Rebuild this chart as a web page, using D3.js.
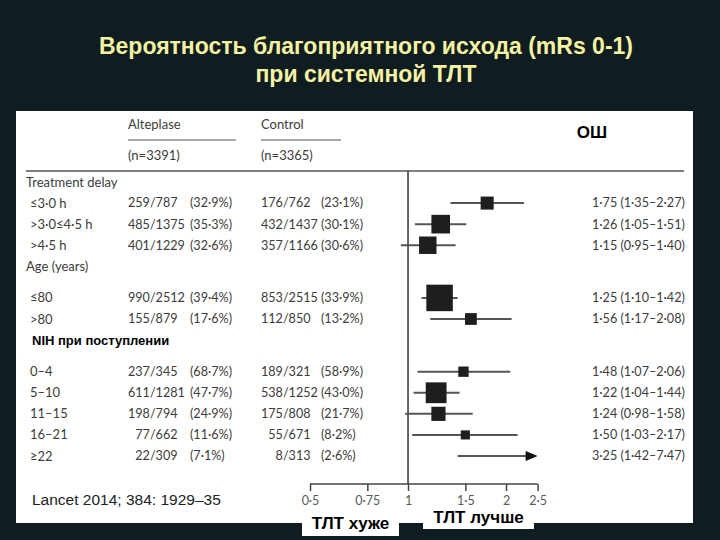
<!DOCTYPE html>
<html><head><meta charset="utf-8">
<script src="https://cdn.jsdelivr.net/npm/d3@7"></script>
<style>html,body{margin:0;padding:0;background:#0f1c20;}svg{display:block;}</style>
</head><body>
<svg id="chart" width="720" height="540"></svg>
<script>
// ---------- data ----------
const titleLines = ["Вероятность благоприятного исхода (mRs 0-1)", "при системной ТЛТ"];
const groups = ["Treatment delay", "Age (years)", "NIH при поступлении"];
const rowLabels = ["≤3·0 h", ">3·0≤4·5 h", ">4·5 h", "≤80", ">80", "0–4", "5–10", "11–15", "16–21", "≥22"];
const rowGroup = [0, 0, 0, 1, 1, 2, 2, 2, 2, 2];
const altEvents = [259, 485, 401, 990, 155, 237, 611, 198, 77, 22];
const altTotal  = [787, 1375, 1229, 2512, 879, 345, 1281, 794, 662, 309];
const altPct    = [32.9, 35.3, 32.6, 39.4, 17.6, 68.7, 47.7, 24.9, 11.6, 7.1];
const ctlEvents = [176, 432, 357, 853, 112, 189, 538, 175, 55, 8];
const ctlTotal  = [762, 1437, 1166, 2515, 850, 321, 1252, 808, 671, 313];
const ctlPct    = [23.1, 30.1, 30.6, 33.9, 13.2, 58.9, 43.0, 21.7, 8.2, 2.6];
const orVal = [1.75, 1.26, 1.15, 1.25, 1.56, 1.48, 1.22, 1.24, 1.50, 3.25];
const orLo  = [1.35, 1.05, 0.95, 1.10, 1.17, 1.07, 1.04, 0.98, 1.03, 1.42];
const orHi  = [2.27, 1.51, 1.40, 1.42, 2.08, 2.06, 1.44, 1.58, 2.17, 7.47];
const colHeads = ["Alteplase", "Control"];
const colN = ["(n=3391)", "(n=3365)"];
const tickVals = [0.5, 0.75, 1, 1.5, 2, 2.5];
const tickLabels = ["0·5", "0·75", "1", "1·5", "2", "2·5"];
const orHeader = "ОШ";
const citation = "Lancet 2014; 384: 1929–35";
const sideLabels = ["ТЛТ хуже", "ТЛТ лучше"];

// ---------- layout ----------
const svg = d3.select("#chart");
const dot = s => s.replace(".", "·");
const f1 = v => dot(v.toFixed(1));
const f2 = v => dot(v.toFixed(2));
const pad3 = v => String(v).padStart(3, "\u2007");

svg.append("rect").attr("width", 720).attr("height", 540).attr("fill", "#0f1c20");

svg.selectAll("text.title").data(titleLines).join("text")
  .attr("x", 366).attr("y", (d, i) => 54 + i * 28)
  .attr("text-anchor", "middle")
  .attr("font-family", "Liberation Sans, Arial, sans-serif")
  .attr("font-weight", "bold").attr("font-size", 23)
  .attr("fill", "#f6f2a4").text(d => d);

// white panel
svg.append("rect").attr("x", 16).attr("y", 111).attr("width", 677).attr("height", 412).attr("fill", "#ffffff");

// build line list (headers + rows)
const lines = [];
let idx = 0;
groups.forEach((g, gi) => {
  lines.push({type: "header", g: gi, label: g, idx: idx});
  idx += 1;
  if (gi > 0) idx += 0.5;
  rowLabels.forEach((r, ri) => {
    if (rowGroup[ri] === gi) { lines.push({type: "row", g: gi, r: ri, idx: idx}); idx += 1; }
  });
});
const lastIdx = idx - 1;
const y = d3.scaleLinear().domain([0, lastIdx]).range([182, 456]);
const x = d3.scaleLog().domain([0.5, 2.5]).range([310, 537.6]);

const tableFont = "Lato, 'Open Sans', sans-serif";
const tcol = "#3c3c3c";

// column headers
const colX = [128, 261];
const colW = [108, 80];
colHeads.forEach((h, i) => {
  svg.append("text").attr("x", colX[i]).attr("y", 129).attr("font-family", tableFont)
    .attr("font-size", 13).attr("fill", tcol).text(h);
  svg.append("line").attr("x1", colX[i]).attr("x2", colX[i] + colW[i]).attr("y1", 140).attr("y2", 140)
    .attr("stroke", "#555").attr("stroke-width", 1.2);
  svg.append("text").attr("x", colX[i]).attr("y", 160).attr("font-family", tableFont)
    .attr("font-size", 13).attr("fill", tcol).text(colN[i]);
});
// header rule
svg.append("line").attr("x1", 26).attr("x2", 684).attr("y1", 171).attr("y2", 171)
  .attr("stroke", "#555").attr("stroke-width", 1.6);

// OR header
svg.append("text").attr("x", 592).attr("y", 138).attr("text-anchor", "middle")
  .attr("font-family", "Liberation Sans, Arial, sans-serif").attr("font-weight", "bold")
  .attr("font-size", 17).attr("fill", "#000").text(orHeader);

// group headers
lines.filter(l => l.type === "header").forEach(l => {
  const nih = l.g === 2;
  svg.append("text").attr("x", nih ? 32 : 26).attr("y", y(l.idx)).attr("dy", "0.35em")
    .attr("font-family", nih ? "Liberation Sans, Arial, sans-serif" : tableFont)
    .attr("font-weight", nih ? "bold" : "normal")
    .attr("font-size", 13).attr("fill", nih ? "#000" : tcol).text(l.label);
});

const rows = lines.filter(l => l.type === "row");
const rowText = (xp, anchor, fn, fs) => svg.append("g").selectAll("text").data(rows).join("text")
  .attr("x", xp).attr("y", d => y(d.idx)).attr("dy", "0.35em").attr("text-anchor", anchor)
  .attr("font-family", tableFont).attr("font-size", fs || 13).attr("fill", tcol).text(fn);

rowText(30, "start", d => rowLabels[d.r]);
rowText(128, "start", d => `${pad3(altEvents[d.r])}/${altTotal[d.r]}`, 12.6);
rowText(190, "start", d => `(${f1(altPct[d.r])}%)`, 12.6);
rowText(261, "start", d => `${pad3(ctlEvents[d.r])}/${ctlTotal[d.r]}`, 12.6);
rowText(321, "start", d => `(${f1(ctlPct[d.r])}%)`, 12.6);
rowText(592, "start", d => `${f2(orVal[d.r])} (${f2(orLo[d.r])}–${f2(orHi[d.r])})`, 12.6);

// reference line at 1
svg.append("line").attr("x1", x(1)).attr("x2", x(1)).attr("y1", 171).attr("y2", 484)
  .attr("stroke", "#333").attr("stroke-width", 1.5);

// axis
const axis = d3.axisBottom(x).tickValues(tickVals).tickFormat((d, i) => tickLabels[i]).tickSize(7).tickPadding(5);
const ax = svg.append("g").attr("transform", "translate(0,484)").call(axis);
ax.select(".domain").attr("stroke", "#444").attr("stroke-width", 1.5).attr("d", `M${x(0.5)},0H${x(2.5)}`);
ax.selectAll(".tick line").attr("stroke", "#444").attr("stroke-width", 1.5);
ax.selectAll(".tick text").attr("font-family", tableFont).attr("font-size", 12.5).attr("fill", "#5a5a5a");

// CI lines and squares
const xmax = x.domain()[1];
const ciG = svg.append("g");
ciG.selectAll("line").data(rows).join("line")
  .attr("x1", d => x(orLo[d.r]))
  .attr("x2", d => orHi[d.r] > xmax ? x(xmax) - 8 : x(orHi[d.r]))
  .attr("y1", d => y(d.idx)).attr("y2", d => y(d.idx))
  .attr("stroke", "#555").attr("stroke-width", 2);
// arrow for truncated CI
ciG.selectAll("path").data(rows.filter(d => orHi[d.r] > xmax)).join("path")
  .attr("d", d => { const yy = y(d.idx), xe = x(xmax); return `M${xe},${yy}L${xe - 12},${yy - 5}L${xe - 12},${yy + 5}Z`; })
  .attr("fill", "#111");
// square size ~ precision (1/se)
const prec = i => 3.92 / Math.log(orHi[i] / orLo[i]);
const sz = d3.scaleLinear().domain([0, d3.max(rowLabels.map((_, i) => prec(i)))]).range([0, 26.5]);
ciG.selectAll("rect").data(rows.filter(d => orVal[d.r] <= xmax)).join("rect")
  .attr("x", d => x(orVal[d.r]) - sz(prec(d.r)) / 2)
  .attr("y", d => y(d.idx) - sz(prec(d.r)) / 2)
  .attr("width", d => sz(prec(d.r))).attr("height", d => sz(prec(d.r)))
  .attr("fill", "#1e1e1e");

// citation
svg.append("text").attr("x", 32).attr("y", 505).attr("font-family", "Liberation Sans, Arial, sans-serif")
  .attr("font-size", 15.5).attr("fill", "#222").text(citation);

// bottom labels in white boxes
const boxes = [{x: 302, y: 509, w: 97, h: 27}, {x: 423, y: 505, w: 111, h: 24}];
sideLabels.forEach((t, i) => {
  const b = boxes[i];
  svg.append("rect").attr("x", b.x).attr("y", b.y).attr("width", b.w).attr("height", b.h).attr("fill", "#fff");
  svg.append("text").attr("x", b.x + b.w / 2).attr("y", b.y + b.h / 2).attr("dy", "0.36em")
    .attr("text-anchor", "middle").attr("font-family", "Liberation Sans, Arial, sans-serif")
    .attr("font-weight", "bold").attr("font-size", 17).attr("fill", "#000").text(t);
});
</script>
</body></html>
